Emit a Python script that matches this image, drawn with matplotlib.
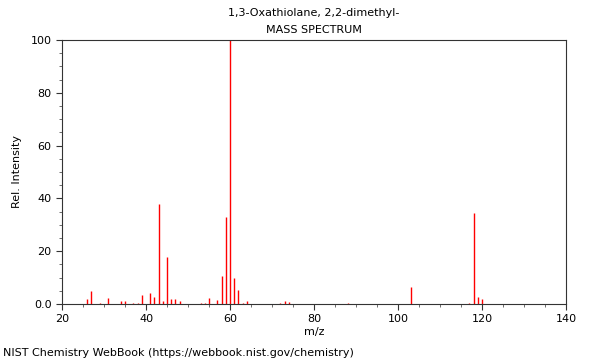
import matplotlib
matplotlib.use("Agg")
import matplotlib.pyplot as plt
from matplotlib.ticker import MultipleLocator

mz = [26, 27, 29, 31, 34, 35, 37, 38, 39, 41, 42, 43, 44, 45, 46, 47, 48,
      53, 54, 55, 57, 58, 59, 60, 61, 62, 63, 64,
      72, 73, 74, 88, 103, 117, 118, 119, 120]
intensity = [2.0, 5.0, 0.5, 2.3, 1.0, 1.0, 0.3, 0.5, 3.5, 4.2, 2.7, 38.0, 1.0, 17.8, 2.0, 1.8, 1.0,
             0.3, 0.5, 2.2, 1.7, 10.7, 33.0, 100.0, 9.7, 5.3, 0.3, 1.1,
             0.5, 1.0, 0.7, 0.5, 6.4, 0.5, 34.6, 2.6, 2.0]

title1 = "1,3-Oxathiolane, 2,2-dimethyl-"
title2 = "MASS SPECTRUM"
xlabel = "m/z"
ylabel = "Rel. Intensity"
footer = "NIST Chemistry WebBook (https://webbook.nist.gov/chemistry)"
yticks = [0, 20, 40, 60, 80, 100]
ytick_labels = ["0.0", "20", "40", "60", "80", "100"]
xticks = [20, 40, 60, 80, 100, 120, 140]

fig = plt.figure(figsize=(6, 3.6), dpi=100)
ax = fig.add_axes([62/600, 56/360, 504/600, 264/360])
ax.vlines(mz, 0, intensity, colors="red", linewidth=1.0)
ax.set_xlim(20, 140)
ax.set_ylim(0, 100)
ax.set_xticks(xticks)
ax.set_yticks(yticks)
ax.set_yticklabels(ytick_labels)
ax.xaxis.set_minor_locator(MultipleLocator(5))
ax.yaxis.set_minor_locator(MultipleLocator(5))
ax.tick_params(axis="both", which="major", labelsize=8, length=4, width=0.8, color="#333333")
ax.tick_params(axis="both", which="minor", length=2, width=0.6, color="#555555")
ax.tick_params(top=False, right=False)
for s in ax.spines.values():
    s.set_color("#333333")
    s.set_linewidth(0.8)
ax.set_xlabel(xlabel, fontsize=8, labelpad=2)
ax.set_ylabel(ylabel, fontsize=8, labelpad=6)
fig.text(314/600, 1 - 13/360, title1, ha="center", va="center", fontsize=8)
fig.text(314/600, 1 - 30/360, title2, ha="center", va="center", fontsize=8)
fig.text(3/600, 1 - 353/360, footer, ha="left", va="center", fontsize=8)
fig.savefig("out.png", dpi=100)
